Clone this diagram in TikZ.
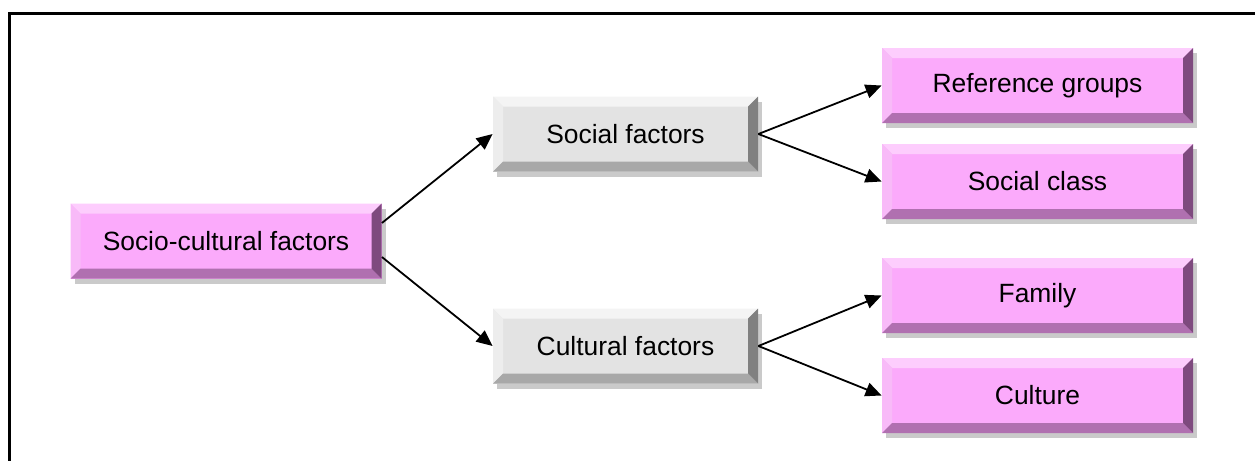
\documentclass[tikz,border=0pt]{standalone}
\usepackage{fontspec}
\setmainfont{Liberation Sans}
\usetikzlibrary{arrows.meta,shadows}
\definecolor{pinkface}{HTML}{FBAAFB}
\definecolor{pinktop}{HTML}{FDCDFD}
\definecolor{pinkleft}{HTML}{F8BAF8}
\definecolor{pinkbot}{HTML}{B070B0}
\definecolor{pinkright}{HTML}{7E4A7E}
\definecolor{grayface}{HTML}{E3E3E3}
\definecolor{graytop}{HTML}{F4F4F4}
\definecolor{grayleft}{HTML}{EDEDED}
\definecolor{graybot}{HTML}{A8A8A8}
\definecolor{grayright}{HTML}{808080}
\tikzset{
  bev/.style n args={5}{rectangle, minimum width=155.5pt, minimum height=37.5pt,
    inner sep=0pt, fill=#1, font=\fontsize{13.2}{16}\selectfont,
    drop shadow={shadow xshift=2pt, shadow yshift=-2.5pt, fill=black!35, opacity=0.6},
    path picture={
      \def\bw{5pt}
      \fill[#2] (path picture bounding box.north west) -- (path picture bounding box.north east)
        -- ([shift={(-\bw,-\bw)}]path picture bounding box.north east)
        -- ([shift={(\bw,-\bw)}]path picture bounding box.north west) -- cycle;
      \fill[#3] (path picture bounding box.north west) -- (path picture bounding box.south west)
        -- ([shift={(\bw,\bw)}]path picture bounding box.south west)
        -- ([shift={(\bw,-\bw)}]path picture bounding box.north west) -- cycle;
      \fill[#4] (path picture bounding box.south west) -- (path picture bounding box.south east)
        -- ([shift={(-\bw,\bw)}]path picture bounding box.south east)
        -- ([shift={(\bw,\bw)}]path picture bounding box.south west) -- cycle;
      \fill[#5] (path picture bounding box.north east) -- (path picture bounding box.south east)
        -- ([shift={(-\bw,\bw)}]path picture bounding box.south east)
        -- ([shift={(-\bw,-\bw)}]path picture bounding box.north east) -- cycle;
    }},
  pinkbox/.style={bev={pinkface}{pinktop}{pinkleft}{pinkbot}{pinkright}},
  graybox/.style={bev={grayface}{graytop}{grayleft}{graybot}{grayright}, minimum width=132.5pt},
  conn/.style={-{Triangle[length=8pt,width=7pt]}, line width=0.9pt},
  frame/.style={line width=1.6pt, black}
}
\begin{document}
\begin{tikzpicture}[x=0.5pt,y=-0.5pt]
\useasboundingbox (0,0) rectangle (1255,461);
\coordinate (fbl) at (9.5,461);
\coordinate (ftl) at (9.5,13.5);
\coordinate (ftr) at (1255,13.5);
\draw[frame] (fbl) -- (ftl) -- (ftr);

\node[pinkbox] (sc) at (226,241) {Socio-cultural factors};
\node[graybox] (sf) at (625.5,134) {Social factors};
\node[graybox] (cf) at (625.5,346) {Cultural factors};
\node[pinkbox] (rg) at (1037.5,85.5) {Reference groups};
\node[pinkbox] (cl) at (1037.5,181.5) {Social class};
\node[pinkbox] (fa) at (1037.5,295.5) {Family};
\node[pinkbox] (cu) at (1037.5,395.5) {Culture};

\draw[conn] ([yshift=9pt]sc.east) -- (sf.west);
\draw[conn] ([yshift=-8pt]sc.east) -- (cf.west);
\draw[conn] (sf.east) -- (rg.west);
\draw[conn] (sf.east) -- (cl.west);
\draw[conn] (cf.east) -- (fa.west);
\draw[conn] (cf.east) -- (cu.west);
\end{tikzpicture}
\end{document}
